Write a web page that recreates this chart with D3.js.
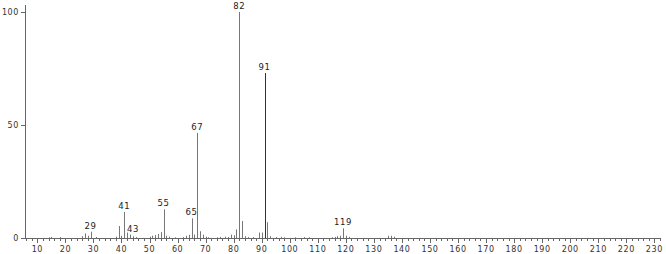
<!DOCTYPE html>
<html>
<head>
<meta charset="utf-8">
<script src="https://cdn.jsdelivr.net/npm/d3@7"></script>
<style>
  body { margin: 0; background: #fff; }
  svg { display: block; }
  text { font-family: "DejaVu Sans", sans-serif; letter-spacing: 0.6px; }
</style>
</head>
<body>
<svg id="chart" width="666" height="254"></svg>
<script>
// peak positions (m/z) and relative intensity (%)
var mz = [14, 15, 18, 26, 27, 28, 29, 31, 38, 39, 40, 41, 42, 43, 44, 45,
          50, 51, 52, 53, 54, 55, 56, 57, 59, 62, 63, 64, 65, 66, 67, 68, 69, 70, 71,
          74, 75, 77, 78, 79, 80, 81, 82, 83, 84, 85, 87, 89, 90, 91, 92, 93,
          95, 97, 98, 102, 105, 107, 115, 116, 117, 118, 119, 120, 121, 135, 136, 137];
var intensity = [0.3, 0.5, 0.4, 0.8, 2.0, 1.0, 2.8, 0.4, 0.6, 5.3, 1.0, 11.5, 2.4, 1.5, 0.8, 0.4,
                 0.6, 1.0, 1.3, 1.8, 2.6, 12.7, 1.0, 0.6, 0.3, 0.4, 1.0, 1.4, 8.7, 1.5, 46.5, 3.0, 1.5, 0.6, 0.3,
                 0.3, 0.5, 0.6, 0.4, 1.5, 1.2, 3.8, 100, 7.5, 0.8, 0.4, 0.4, 2.4, 2.4, 73, 7.0, 0.8,
                 0.4, 0.5, 0.3, 0.3, 0.4, 0.3, 0.3, 0.5, 0.8, 1.0, 4.3, 1.0, 0.5, 1.0, 1.0, 0.6];
// labelled peaks
var labels = [29, 41, 43, 55, 65, 67, 82, 91, 119];

var yTicks = [0, 50, 100];
var xMajor = d3.range(10, 231, 10);
var xMinor = d3.range(6, 233, 2);

var svg = d3.select("#chart");
var x = d3.scaleLinear().domain([5.6, 232]).range([25, 660]);
var y = d3.scaleLinear().domain([0, 100]).range([238, 12]);

var peaks = mz.map(function(m, i) { return { mz: m, v: intensity[i] }; });

// bars
svg.append("g").selectAll("line")
  .data(peaks)
  .enter().append("line")
    .attr("x1", function(d) { return Math.round(x(d.mz)) + 0.5; })
    .attr("x2", function(d) { return Math.round(x(d.mz)) + 0.5; })
    .attr("y1", y(0))
    .attr("y2", function(d) { return y(d.v); })
    .attr("stroke", function(d) { return (d.mz == 91) ? "#333" : "#777"; })
    .attr("stroke-width", 1);

// peak labels
svg.append("g").selectAll("text")
  .data(peaks.filter(function(d) { return labels.indexOf(d.mz) >= 0; }))
  .enter().append("text")
    .attr("x", function(d) { return x(d.mz) + (d.mz == 43 ? 3 : 0); })
    .attr("y", function(d) { return y(d.v) - 3; })
    .attr("text-anchor", "middle")
    .style("font-size", "8.5px")
    .style("fill", "#222")
    .text(function(d) { return d.mz; });

// x axis
var xg = svg.append("g");
xg.append("line")
  .attr("x1", 25).attr("x2", 660)
  .attr("y1", 238.5).attr("y2", 238.5)
  .attr("stroke", "#666");
xg.selectAll(".minor")
  .data(xMinor)
  .enter().append("line")
    .attr("class", "minor")
    .attr("x1", function(d) { return Math.round(x(d)) + 0.5; })
    .attr("x2", function(d) { return Math.round(x(d)) + 0.5; })
    .attr("y1", 238).attr("y2", function(d) { return d % 10 == 0 ? 243 : 241; })
    .attr("stroke", "#666");
xg.selectAll(".lbl")
  .data(xMajor)
  .enter().append("text")
    .attr("class", "lbl")
    .attr("x", function(d) { return x(d); })
    .attr("y", 252)
    .attr("text-anchor", "middle")
    .style("font-size", "8px")
    .style("fill", "#333")
    .text(function(d) { return d; });

// y axis
var yg = svg.append("g");
yg.append("line")
  .attr("x1", 25.5).attr("x2", 25.5)
  .attr("y1", 5).attr("y2", 238)
  .attr("stroke", "#666");
yg.selectAll(".tick")
  .data(yTicks)
  .enter().append("line")
    .attr("x1", 21).attr("x2", 25)
    .attr("y1", function(d) { return Math.round(y(d)) + 0.5; })
    .attr("y2", function(d) { return Math.round(y(d)) + 0.5; })
    .attr("stroke", "#666");
yg.selectAll(".lbl")
  .data(yTicks)
  .enter().append("text")
    .attr("x", 19)
    .attr("y", function(d) { return y(d) + 3; })
    .attr("text-anchor", "end")
    .style("font-size", "8px")
    .style("fill", "#333")
    .text(function(d) { return d; });
</script>
</body>
</html>
